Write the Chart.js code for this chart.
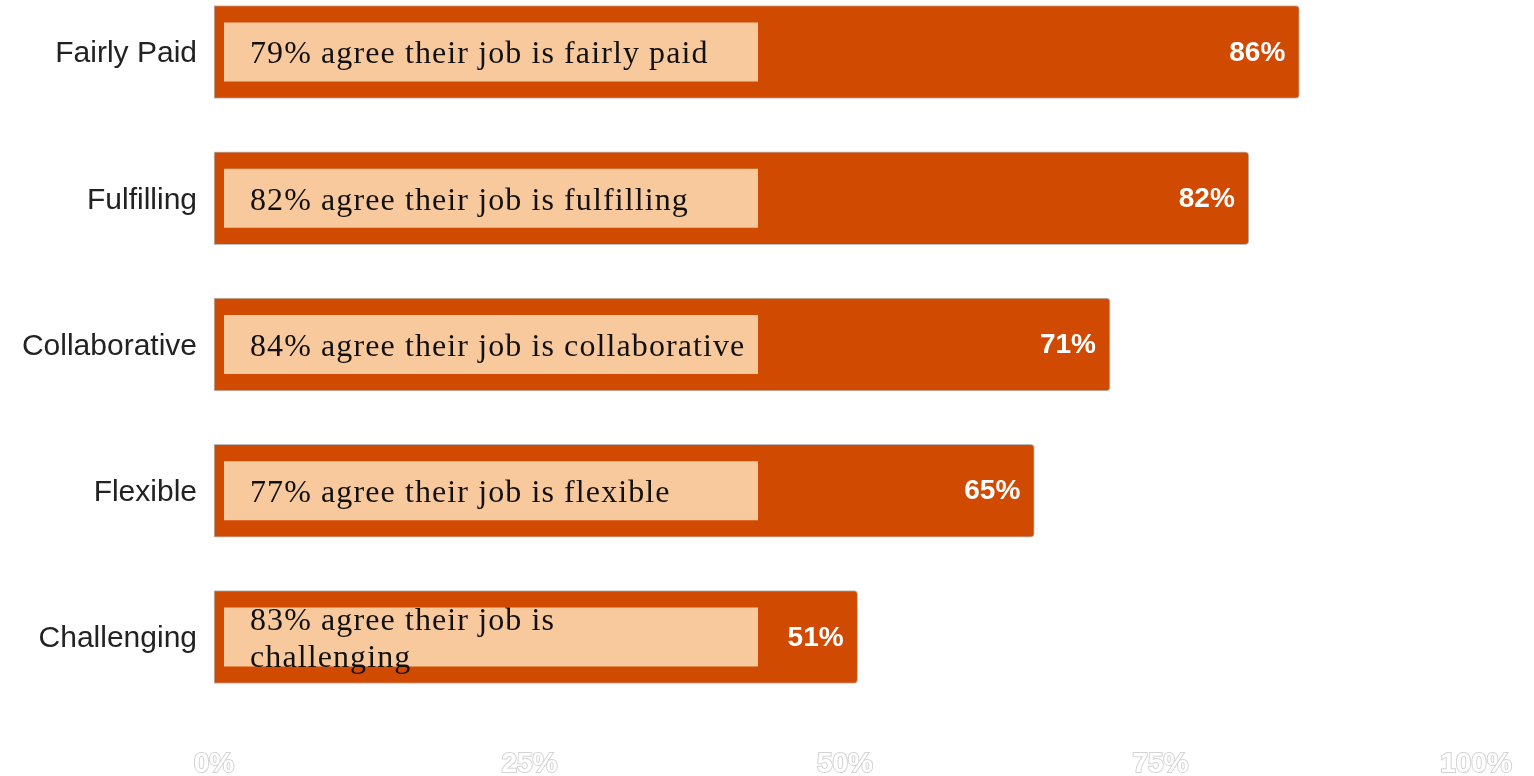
<!DOCTYPE html>
<html>
<head>
<meta charset="utf-8">
<script src="https://cdn.jsdelivr.net/npm/chart.js@4"></script>
<style>
  html, body { margin: 0; padding: 0; background: #fff; }
  #wrap { width: 1534px; height: 776px; }
</style>
</head>
<body>
<div id="wrap"><canvas id="myChart"></canvas></div>
<script>
const categories = ['Fairly Paid', 'Fulfilling', 'Collaborative', 'Flexible', 'Challenging'];
const values = [86, 82, 71, 65, 51];
const agreeShares = [79, 82, 84, 77, 83];
// callout text, one entry per line
const calloutLines = [
  ['agree their job is fairly paid'],
  ['agree their job is fulfilling'],
  ['agree their job is collaborative'],
  ['agree their job is flexible'],
  ['agree their job is', 'challenging'],
];
const xTicks = [0, 25, 50, 75, 100];

const ORANGE = '#D04A02';
const PEACH = '#F8C99C';

// peach callout boxes + white value labels on top of the bars
const calloutPlugin = {
  id: 'callouts',
  afterDatasetsDraw(chart) {
    const ctx = chart.ctx;
    const meta = chart.getDatasetMeta(0);
    const x0 = chart.scales.x.getPixelForValue(0);
    ctx.save();
    meta.data.forEach((bar, i) => {
      ctx.fillStyle = PEACH;
      ctx.fillRect(x0 + 10, bar.y - 29.5, 534, 59);

      const lines = calloutLines[i].map((t, k) => k === 0 ? agreeShares[i] + '% ' + t : t);
      ctx.fillStyle = '#111';
      ctx.font = '32px "Liberation Serif", "Times New Roman", serif';
      ctx.letterSpacing = '1.1px';
      ctx.textAlign = 'left';
      ctx.textBaseline = 'middle';
      const lh = 37;
      const top = bar.y - (lines.length - 1) * lh / 2;
      lines.forEach((ln, k) => ctx.fillText(ln, x0 + 36, top + k * lh + 3));

      ctx.letterSpacing = '0px';
      ctx.fillStyle = '#fff';
      ctx.font = '600 28px "Liberation Sans", Arial, sans-serif';
      ctx.textAlign = 'right';
      ctx.fillText(values[i] + '%', bar.x - 14, bar.y + 1);
    });
    ctx.restore();
  }
};

const ctx = document.getElementById('myChart').getContext('2d');
const chart = new Chart(ctx, {
  type: 'bar',
  data: {
    labels: categories,
    datasets: [{
      data: values,
      backgroundColor: ORANGE,
      borderColor: 'rgba(160,160,160,0.7)',
      borderWidth: 1,
      borderSkipped: false,
      borderRadius: { topRight: 4, bottomRight: 4, topLeft: 0, bottomLeft: 0 },
      barThickness: 93,
      clip: false,
    }],
  },
  options: {
    indexAxis: 'y',
    responsive: true,
    maintainAspectRatio: false,
    animation: false,
    layout: { padding: { top: 52, right: 58, bottom: 0, left: 0 } },
    plugins: {
      legend: { display: false },
      tooltip: { enabled: false },
    },
    scales: {
      y: {
        offset: false,
        grid: { display: false },
        border: { display: false },
        afterFit: scale => { scale.width = 214; scale.paddingTop = 0; scale.paddingBottom = 0; },
        ticks: {
          padding: 9,
          labelOffset: 2,
          color: '#222',
          font: { family: '"Liberation Sans", Arial, sans-serif', size: 30 },
        },
      },
      x: {
        min: 0,
        max: 100,
        grid: { display: false },
        border: { display: false },
        afterBuildTicks: scale => { scale.ticks = xTicks.map(v => ({ value: v })); },
        afterFit: scale => { scale.height = 139; scale.paddingLeft = 0; scale.paddingRight = 0; },
        ticks: {
          padding: 102,
          maxRotation: 0,
          color: '#fff',
          textStrokeColor: '#d4d4d4',
          textStrokeWidth: 2,
          font: { family: '"Liberation Sans", Arial, sans-serif', size: 28, weight: 'bold' },
          callback: v => v + '%',
        },
      },
    },
  },
  plugins: [calloutPlugin],
});
</script>
</body>
</html>
